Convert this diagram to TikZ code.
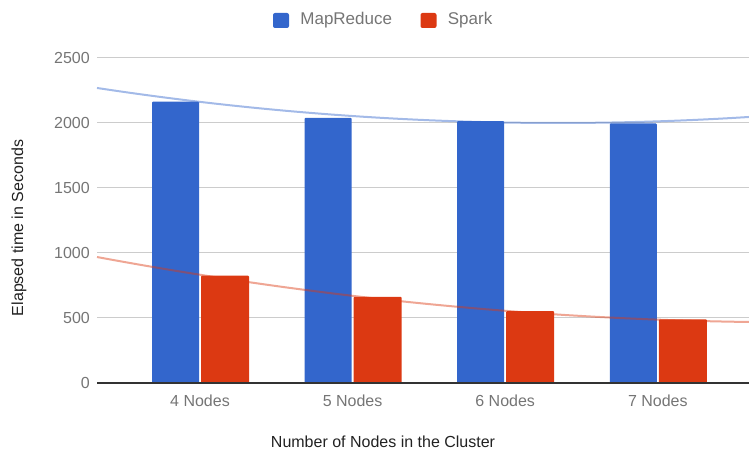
\documentclass[tikz,border=0pt]{standalone}
\usepackage{fontspec}
\setmainfont{Liberation Sans}
\usetikzlibrary{positioning}
\definecolor{mrblue}{HTML}{3366CC}
\definecolor{spred}{HTML}{DC3912}
\definecolor{gridgray}{HTML}{CCCCCC}
\definecolor{axisgray}{HTML}{333333}
\definecolor{ticktext}{HTML}{757575}
\definecolor{titletext}{HTML}{222222}

\tikzset{
  ticklab/.style={text=ticktext, inner sep=0pt, font=\fontsize{16}{18}\selectfont},
  axistitle/.style={text=titletext, inner sep=0pt, font=\fontsize{16}{18}\selectfont},
  legkey/.style={minimum width=16pt, minimum height=15pt, inner sep=0pt, rounded corners=2pt},
  legtext/.style={text=ticktext, inner sep=0pt, font=\fontsize{17}{19}\selectfont},
  bar/.style={rounded corners=1pt},
  trend/.style={line width=2pt, opacity=0.45}
}

\begin{document}
\begin{tikzpicture}[x=1pt, y=1pt]
    \useasboundingbox (0,0) rectangle (749,457);
    \begin{scope}[shift={(97,74)}, y=0.13pt]
      \foreach \v in {500,1000,...,2500}
        \draw [gridgray, line width=1pt] (0,\v) -- (652,\v);
      \foreach \v in {0,500,...,2500}
        \node[ticklab, anchor=east] (tick\v) at (-7,\v) {\v};
      \foreach \i/\mr/\sp/\lab in {0/2165/825/4 Nodes, 1/2040/663/5 Nodes,
                                  2/2015/553/6 Nodes, 3/1997/490/7 Nodes} {
        \pgfmathsetmacro{\c}{103+152.6*\i}
        \fill [mrblue, bar] (\c-48,0) rectangle (\c-1,\mr);
        \fill [spred, bar] (\c+1,0) rectangle (\c+49,\sp);
        \node[ticklab] (cat\i) at (\c,-140) {\lab};
      }
      \draw [axisgray, line width=1.2pt] (0,0) -- (652,0);
      \draw [trend, mrblue] plot[domain=0:652, samples=60]
            (\x, {2000+(0.035595*(\x-461))^2});
      \draw [trend, spred] plot[domain=0:652, samples=60]
            (\x, {969-1.427*\x+(0.031824*\x)^2});
    \end{scope}
    \node[axistitle] (xtitle) at (383,15) {Number of Nodes in the Cluster};
    \node[axistitle, rotate=90] (ytitle) at (19,229) {Elapsed time in Seconds};
    \node[legkey, fill=mrblue] (mrkey) at (281,436.5) {};
    \node[legtext, right=11pt of mrkey] (mrlab) {MapReduce};
    \node[legkey, fill=spred] (spkey) at (428.5,436.5) {};
    \node[legtext, right=11pt of spkey] (splab) {Spark};
\end{tikzpicture}
\end{document}
